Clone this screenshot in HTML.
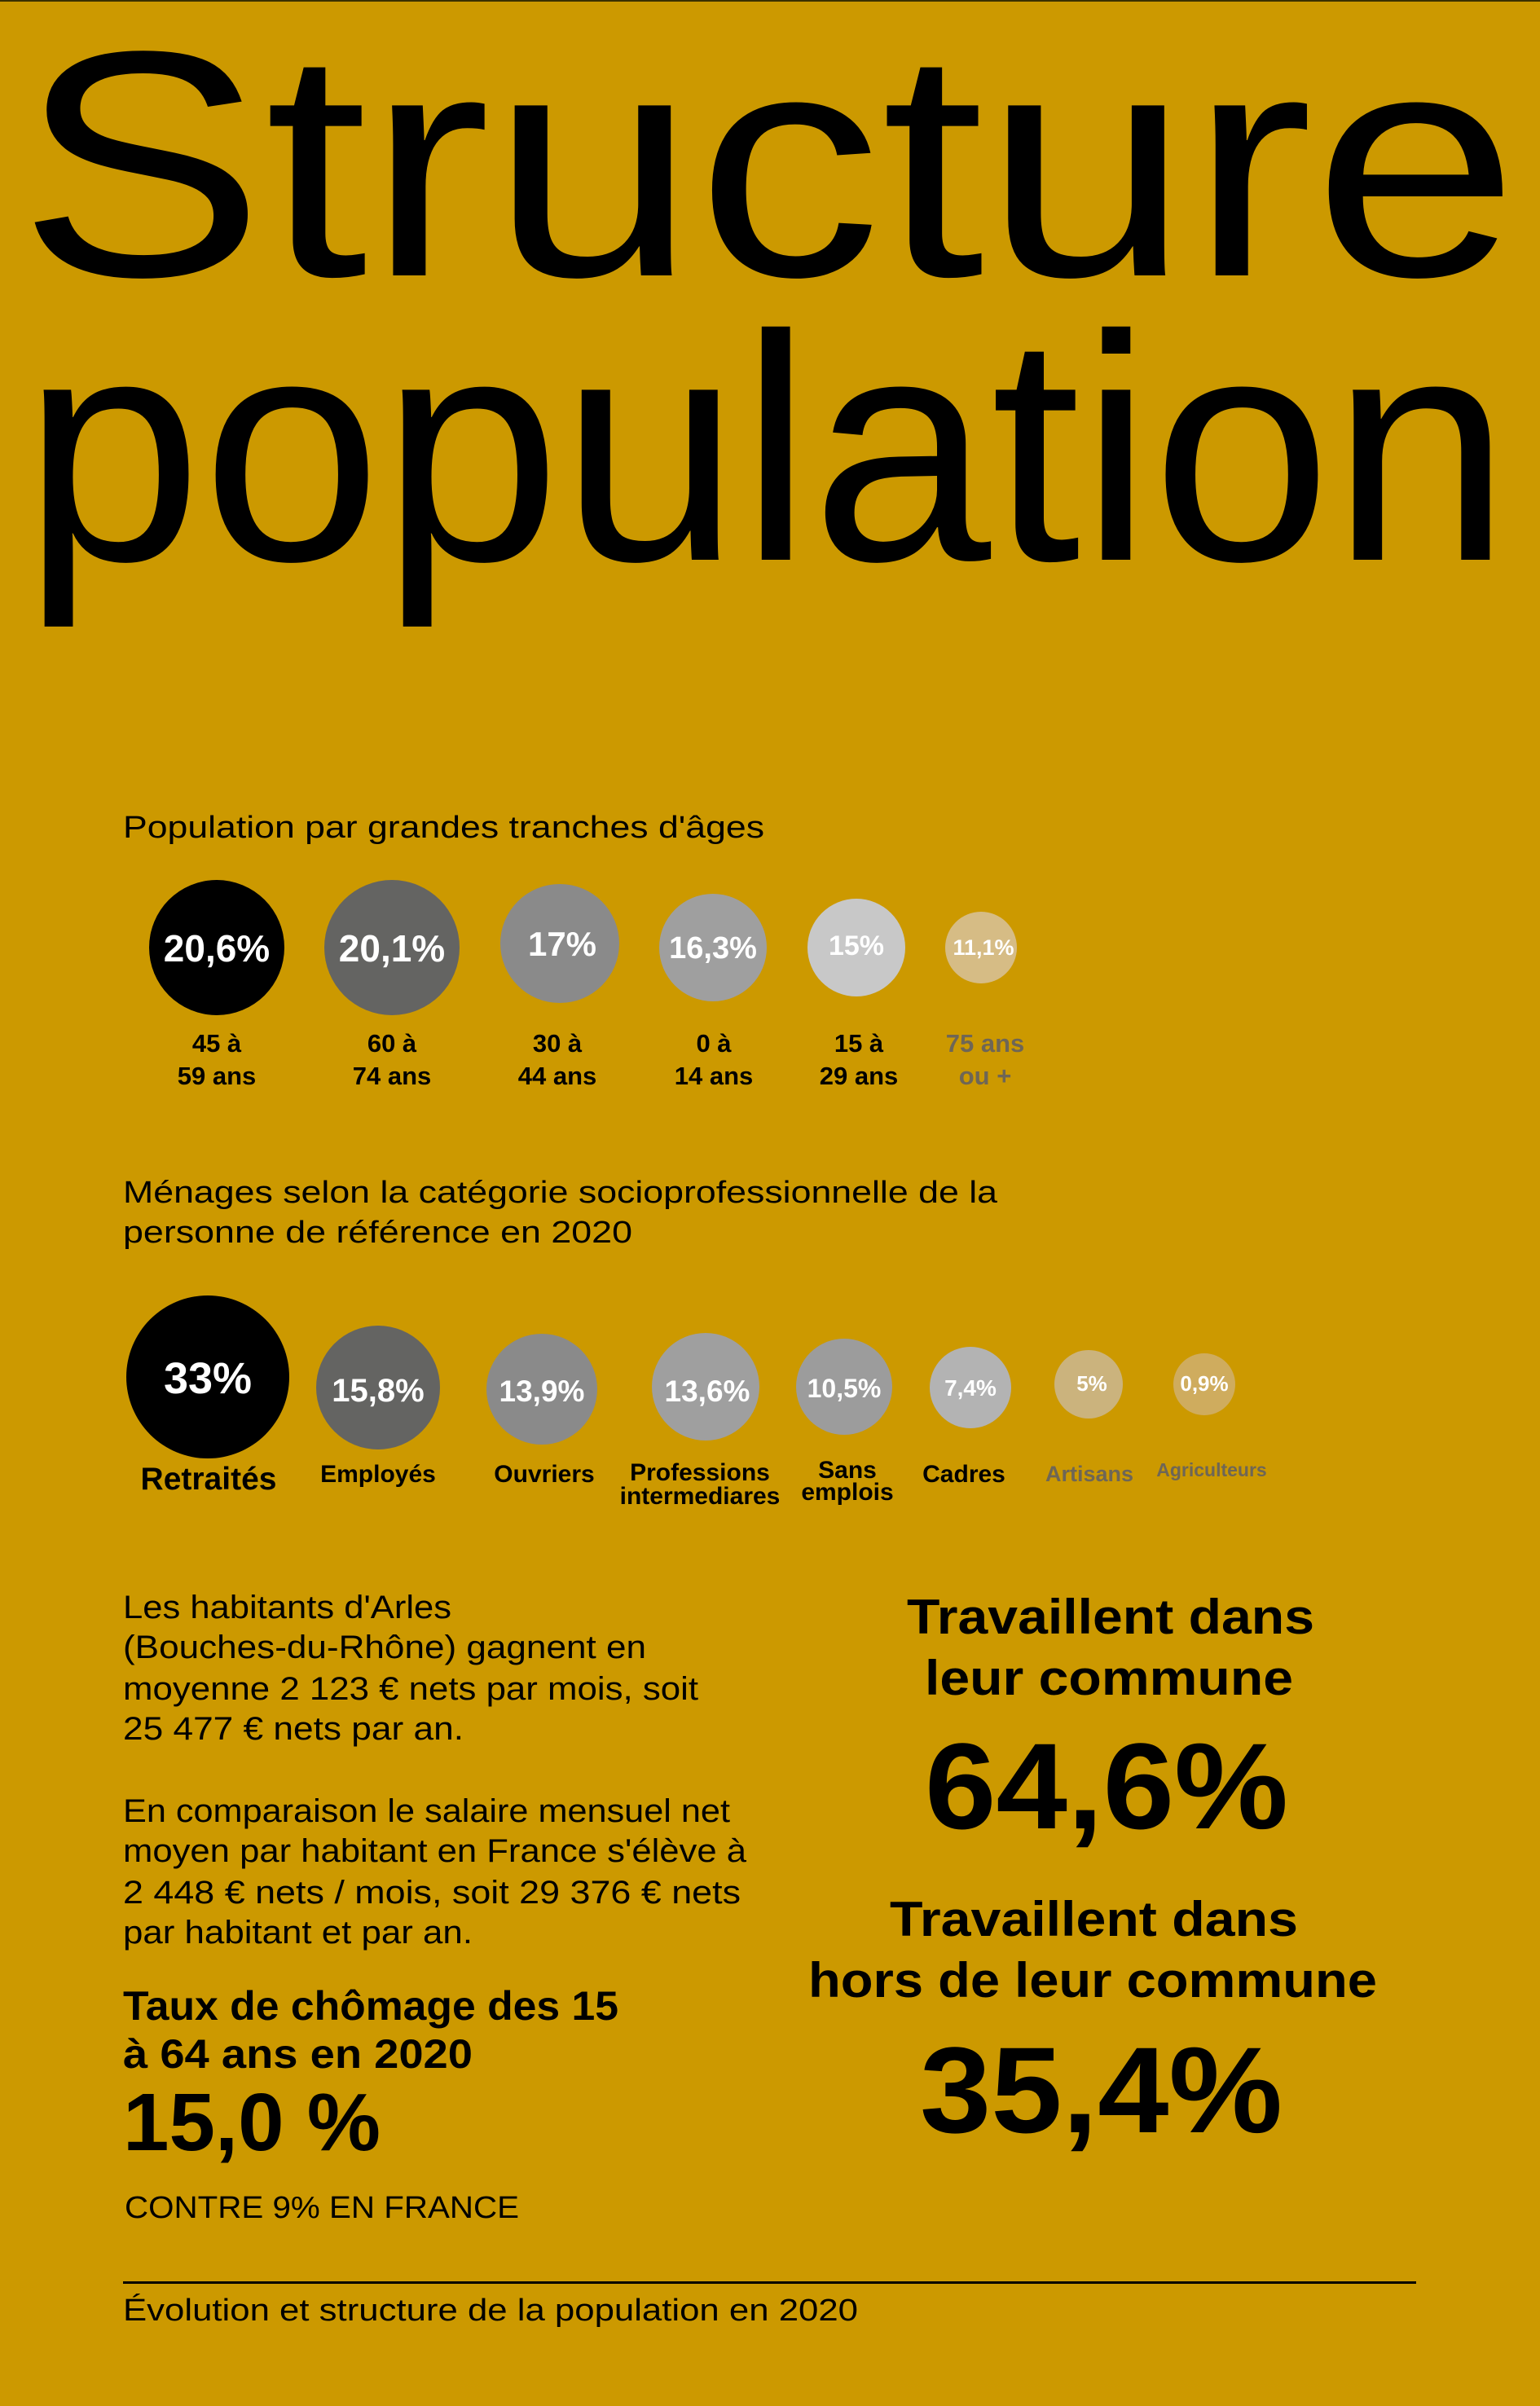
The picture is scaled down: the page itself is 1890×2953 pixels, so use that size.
<!DOCTYPE html>
<html><head><meta charset="utf-8"><style>
html,body{margin:0;padding:0;background:#cc9900;}
svg{display:block}
text{font-family:"Liberation Sans",sans-serif;}
.b{font-weight:bold}
</style></head><body>
<svg width="1890" height="2953" viewBox="0 0 1890 2953" xmlns="http://www.w3.org/2000/svg">
<rect width="1890" height="2953" fill="#cc9900"/>
<rect width="1890" height="2" fill="#3a3000"/>
<text x="22" y="338" font-size="395" textLength="1842" lengthAdjust="spacingAndGlyphs">Structure</text>
<text x="28" y="687" font-size="395" textLength="1826" lengthAdjust="spacingAndGlyphs">population</text>

<text x="151" y="1028" font-size="38" textLength="787" lengthAdjust="spacingAndGlyphs">Population par grandes tranches d'âges</text>
<g>
<circle cx="266" cy="1163" r="83" fill="#000"/>
<circle cx="481" cy="1163" r="83" fill="#646462"/>
<circle cx="687" cy="1158" r="73" fill="#8a8a8a"/>
<circle cx="875" cy="1163" r="66" fill="#9f9f9f"/>
<circle cx="1051" cy="1163" r="60" fill="#c8c8c8"/>
<circle cx="1204" cy="1163" r="44" fill="#d6bc85"/>
</g>
<g fill="#fff" text-anchor="middle">
<text class="b" x="266" y="1180" font-size="46">20,6%</text>
<text class="b" x="481" y="1180" font-size="46">20,1%</text>
<text class="b" x="690" y="1173" font-size="42">17%</text>
<text class="b" x="875" y="1176" font-size="38">16,3%</text>
<text class="b" x="1051" y="1172" font-size="34">15%</text>
<text class="b" x="1207" y="1172" font-size="27">11,1%</text>
</g>
<g text-anchor="middle" font-size="31">
<text class="b" x="266" y="1291">45 à</text><text class="b" x="266" y="1331">59 ans</text>
<text class="b" x="481" y="1291">60 à</text><text class="b" x="481" y="1331">74 ans</text>
<text class="b" x="684" y="1291">30 à</text><text class="b" x="684" y="1331">44 ans</text>
<text class="b" x="876" y="1291">0 à</text><text class="b" x="876" y="1331">14 ans</text>
<text class="b" x="1054" y="1291">15 à</text><text class="b" x="1054" y="1331">29 ans</text>
<text class="b" x="1209" y="1291" fill="#6e6656">75 ans</text><text class="b" x="1209" y="1331" fill="#6e6656">ou +</text>
</g>

<text x="151" y="1476" font-size="38" textLength="1073" lengthAdjust="spacingAndGlyphs">Ménages selon la catégorie socioprofessionnelle de la</text>
<text x="151" y="1525" font-size="38" textLength="625" lengthAdjust="spacingAndGlyphs">personne de référence en 2020</text>
<g>
<circle cx="255" cy="1690" r="100" fill="#000"/>
<circle cx="464" cy="1703" r="76" fill="#646462"/>
<circle cx="665" cy="1705" r="68" fill="#8a8a8a"/>
<circle cx="866" cy="1702" r="66" fill="#9f9f9f"/>
<circle cx="1036" cy="1702" r="59" fill="#9c9c9c"/>
<circle cx="1191" cy="1703" r="50" fill="#b3b3b3"/>
<circle cx="1336" cy="1699" r="42" fill="#cbb37d"/>
<circle cx="1478" cy="1699" r="38" fill="#cfac5e"/>
</g>
<g fill="#fff" text-anchor="middle">
<text class="b" x="255" y="1710" font-size="54">33%</text>
<text class="b" x="464" y="1720" font-size="40">15,8%</text>
<text class="b" x="665" y="1720" font-size="37">13,9%</text>
<text class="b" x="868" y="1720" font-size="37">13,6%</text>
<text class="b" x="1036" y="1715" font-size="32">10,5%</text>
<text class="b" x="1191" y="1713" font-size="28">7,4%</text>
<text class="b" x="1340" y="1707" font-size="26">5%</text>
<text class="b" x="1478" y="1707" font-size="26">0,9%</text>
</g>
<g text-anchor="middle" font-size="30">
<text class="b" x="256" y="1828" font-size="39">Retraités</text>
<text class="b" x="464" y="1819">Employés</text>
<text class="b" x="668" y="1819">Ouvriers</text>
<text class="b" x="859" y="1817">Professions</text>
<text class="b" x="859" y="1846">intermediares</text>
<text class="b" x="1040" y="1814">Sans</text>
<text class="b" x="1040" y="1841">emplois</text>
<text class="b" x="1183" y="1819">Cadres</text>
<text class="b" x="1337" y="1818" font-size="27" fill="#6e6656">Artisans</text>
<text class="b" x="1487" y="1812" font-size="23" fill="#6e6656">Agriculteurs</text>
</g>

<g font-size="40">
<text x="151" y="1986" textLength="403" lengthAdjust="spacingAndGlyphs">Les habitants d'Arles</text>
<text x="151" y="2035" textLength="642" lengthAdjust="spacingAndGlyphs">(Bouches-du-Rhône) gagnent en</text>
<text x="151" y="2086" textLength="706" lengthAdjust="spacingAndGlyphs">moyenne 2 123 € nets par mois, soit</text>
<text x="151" y="2135" textLength="418" lengthAdjust="spacingAndGlyphs">25 477 € nets par an.</text>
<text x="151" y="2236" textLength="745" lengthAdjust="spacingAndGlyphs">En comparaison le salaire mensuel net</text>
<text x="151" y="2285" textLength="765" lengthAdjust="spacingAndGlyphs">moyen par habitant en France s'élève à</text>
<text x="151" y="2336" textLength="758" lengthAdjust="spacingAndGlyphs">2 448 € nets / mois, soit 29 376 € nets</text>
<text x="151" y="2385" textLength="429" lengthAdjust="spacingAndGlyphs">par habitant et par an.</text>
</g>
<text class="b" x="151" y="2479" font-size="50" textLength="608" lengthAdjust="spacingAndGlyphs">Taux de chômage des 15</text>
<text class="b" x="151" y="2538" font-size="50" textLength="429" lengthAdjust="spacingAndGlyphs">à 64 ans en 2020</text>
<text class="b" x="151" y="2639" font-size="100" textLength="316" lengthAdjust="spacingAndGlyphs">15,0 %</text>
<text x="153" y="2722" font-size="38" textLength="484" lengthAdjust="spacingAndGlyphs">CONTRE 9% EN FRANCE</text>

<text class="b" x="1113" y="2005" font-size="60" textLength="500" lengthAdjust="spacingAndGlyphs">Travaillent dans</text>
<text class="b" x="1135" y="2080" font-size="60" textLength="452" lengthAdjust="spacingAndGlyphs">leur commune</text>
<text class="b" x="1135" y="2244" font-size="150" textLength="446" lengthAdjust="spacingAndGlyphs">64,6%</text>
<text class="b" x="1092" y="2376" font-size="60" textLength="501" lengthAdjust="spacingAndGlyphs">Travaillent dans</text>
<text class="b" x="992" y="2451" font-size="60" textLength="698" lengthAdjust="spacingAndGlyphs">hors de leur commune</text>
<text class="b" x="1129" y="2617" font-size="150" textLength="445" lengthAdjust="spacingAndGlyphs">35,4%</text>

<rect x="151" y="2800" width="1587" height="3" fill="#000"/>
<text x="151" y="2848" font-size="38" textLength="902" lengthAdjust="spacingAndGlyphs">Évolution et structure de la population en 2020</text>
</svg>
</body></html>
